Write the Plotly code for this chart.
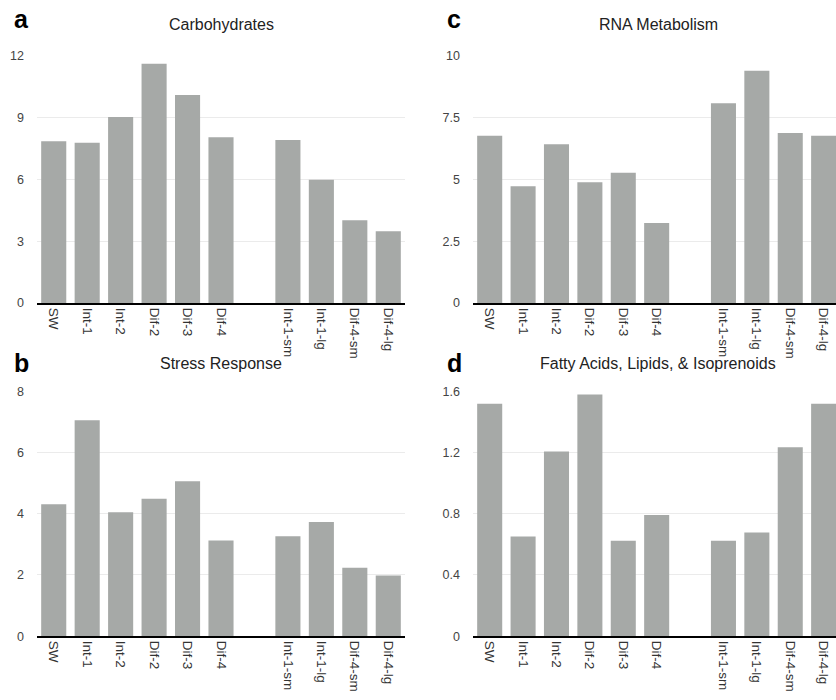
import plotly.graph_objects as go

W, H = 836, 700

group1 = ["SW", "Int-1", "Int-2", "Dif-2", "Dif-3", "Dif-4"]
group2 = ["Int-1-sm", "Int-1-lg", "Dif-4-sm", "Dif-4-lg"]
gap_label = " "
categories = group1 + [gap_label] + group2

carbohydrates = [7.86, 7.79, 9.04, 11.62, 10.10, 8.05, None, 7.92, 5.99, 4.02, 3.49]
stress_response = [4.31, 7.05, 4.05, 4.49, 5.06, 3.12, None, 3.26, 3.73, 2.23, 1.98]
rna_metabolism = [6.77, 4.73, 6.43, 4.89, 5.27, 3.24, None, 8.09, 9.40, 6.88, 6.77]
fatty_acids = [1.517, 0.651, 1.206, 1.579, 0.623, 0.791, None, 0.623, 0.677, 1.234, 1.517]

titles = ["Carbohydrates", "Stress Response", "RNA Metabolism",
          "Fatty Acids, Lipids, & Isoprenoids"]
letters = ["a", "b", "c", "d"]
y_ticks_a = [0, 3, 6, 9, 12]
y_ticks_b = [0, 2, 4, 6, 8]
y_ticks_c = [0, 2.5, 5, 7.5, 10]
y_ticks_d = [0, 0.4, 0.8, 1.2, 1.6]
y_ticktext_d = ["0", "0.4", "0.8", "1.2", "1.6"]

BAR = "#a6a9a7"
FONT = "Liberation Sans, Arial, Helvetica, sans-serif"

# panel geometry in pixels: (left, right, top, bottom)
panels = [
    dict(vals=carbohydrates, ticks=y_ticks_a, ticktext=None, px=(37, 405, 50, 302), xr=10.5,
         title_xy=(221, 18), letter_xy=(21, 12)),
    dict(vals=stress_response, ticks=y_ticks_b, ticktext=None, px=(37, 405, 392, 642), xr=10.5,
         title_xy=(221, 364), letter_xy=(21, 363)),
    dict(vals=rna_metabolism, ticks=y_ticks_c, ticktext=None, px=(473, 836, 50, 302), xr=10.37,
         title_xy=(658, 18), letter_xy=(454, 12)),
    dict(vals=fatty_acids, ticks=y_ticks_d, ticktext=y_ticktext_d, px=(473, 836, 392, 642), xr=10.37,
         title_xy=(658, 364), letter_xy=(454, 363)),
]

fig = go.Figure()
annotations = []
for i, p in enumerate(panels):
    n = i + 1
    xa = "x" if n == 1 else f"x{n}"
    ya = "y" if n == 1 else f"y{n}"
    fig.add_trace(go.Bar(x=categories, y=p["vals"], xaxis=xa, yaxis=ya,
                         marker=dict(color=BAR, line=dict(width=0)), showlegend=False))
    l, r, t, b = p["px"]
    xkey = "xaxis" if n == 1 else f"xaxis{n}"
    ykey = "yaxis" if n == 1 else f"yaxis{n}"
    fig.layout[xkey] = dict(
        domain=[l / W, r / W], anchor=ya, type="category",
        categoryorder="array", categoryarray=categories,
        range=[-0.5, p["xr"]], tickangle=90,
        showline=True, linecolor="#000", linewidth=2, showgrid=False,
        ticks="", tickfont=dict(family=FONT, size=13.5, color="#333"),
        fixedrange=True,
    )
    fig.layout[ykey] = dict(
        domain=[1 - b / H, 1 - t / H], anchor=xa,
        range=[0, p["ticks"][-1]], tickvals=p["ticks"],
        ticktext=p["ticktext"] if p["ticktext"] else [str(v) for v in p["ticks"]],
        showgrid=True, gridcolor="#ebebeb", gridwidth=1, zeroline=False,
        showline=False, ticks="", ticklabelstandoff=12,
        tickfont=dict(family=FONT, size=12.5, color="#444"),
        fixedrange=True,
    )
    tx, ty = p["title_xy"]
    annotations.append(dict(text=titles[i], x=tx / W, y=1 - ty / H, xref="paper", yref="paper",
                            xanchor="center", yanchor="middle", showarrow=False,
                            font=dict(family=FONT, size=16, color="#222")))
    lx, ly = p["letter_xy"]
    annotations.append(dict(text=f"<b>{letters[i]}</b>", x=lx / W, y=1 - ly / H, xref="paper",
                            yref="paper", xanchor="center", yanchor="middle", showarrow=False,
                            font=dict(family=FONT, size=25, color="#000")))

fig.update_layout(
    width=W, height=H, margin=dict(l=0, r=0, t=0, b=0),
    paper_bgcolor="white", plot_bgcolor="white",
    bargap=0.25, annotations=annotations, showlegend=False,
)

fig.write_html("out.html")
